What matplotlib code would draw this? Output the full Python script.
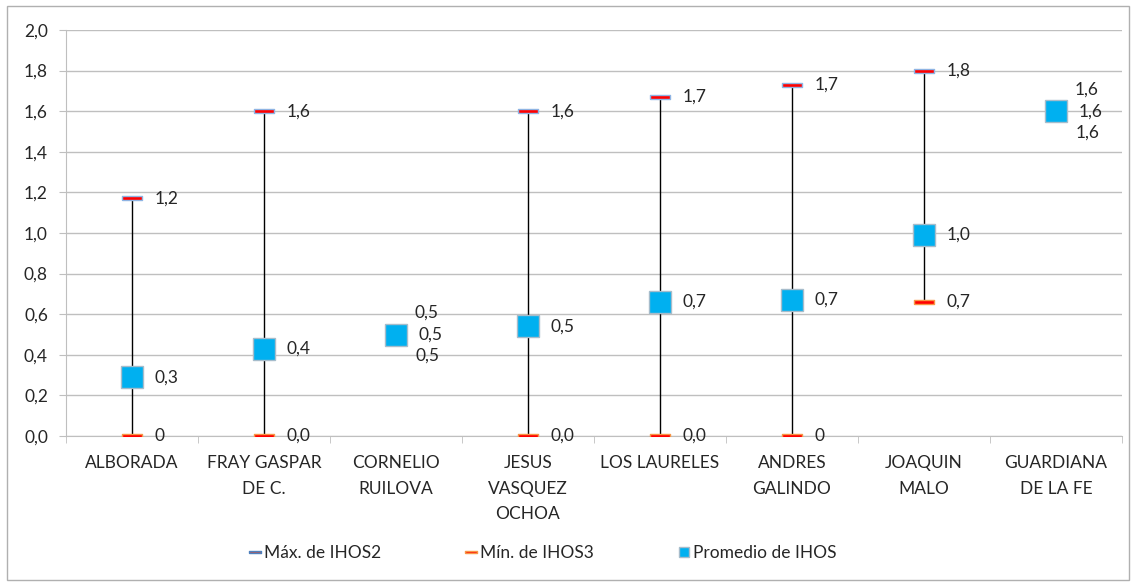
import matplotlib
matplotlib.use("Agg")
import matplotlib.pyplot as plt
from matplotlib.lines import Line2D
from matplotlib.patches import Rectangle
import numpy as np

plt.rcParams["font.family"] = ["Lato", "DejaVu Sans"]

categories = ["ALBORADA", "FRAY GASPAR\nDE C.", "CORNELIO\nRUILOVA", "JESUS\nVASQUEZ\nOCHOA",
              "LOS LAURELES", "ANDRES\nGALINDO", "JOAQUIN\nMALO", "GUARDIANA\nDE LA FE"]
max_vals = [1.17, 1.60, 0.50, 1.60, 1.67, 1.73, 1.80, 1.60]
min_vals = [0.00, 0.00, 0.50, 0.00, 0.00, 0.00, 0.66, 1.60]
avg_vals = [0.29, 0.43, 0.50, 0.54, 0.66, 0.67, 0.99, 1.60]
max_labels = ["1,2", "1,6", "0,5", "1,6", "1,7", "1,7", "1,8", "1,6"]
min_labels = ["0", "0,0", "0,5", "0,0", "0,0", "0", "0,7", "1,6"]
avg_labels = ["0,3", "0,4", "0,5", "0,5", "0,7", "0,7", "1,0", "1,6"]

TXT = "#262626"
GRID = "#bfbfbf"
FS = 12.5
dash = [(-1, -0.2), (1, -0.2), (1, 0.2), (-1, 0.2), (-1, -0.2)]

fig = plt.figure(figsize=(11.35, 5.86), dpi=100)
fig.patches.append(Rectangle((7 / 1135, 6 / 586), 1122 / 1135, 574 / 586,
                             transform=fig.transFigure, fill=False,
                             edgecolor="#b0b0b0", lw=1))
ax = fig.add_axes([66 / 1135, 150 / 586, 1056 / 1135, 406 / 586])

x = np.arange(len(categories))
for i in x:
    ax.plot([i, i], [min_vals[i], max_vals[i]], color="black", lw=1, zorder=3)

ax.plot(x, max_vals, ls="none", marker=dash, ms=14.5, mfc="#ff0000",
        mec="#8fb4e3", mew=1, zorder=4)
ax.plot(x, min_vals, ls="none", marker=dash, ms=14.5, mfc="#ff0000",
        mec="#f79646", mew=1, zorder=4)
ax.plot(x, avg_vals, ls="none", marker="s", ms=15.5, mfc="#00b0f0",
        mec="#a6bccb", mew=1, zorder=5)

def label(txt, xy, dx, dy, ha):
    ax.annotate(txt, xy, xytext=(dx, dy), textcoords="offset points",
                ha=ha, va="center", fontsize=FS, color=TXT, zorder=6)

for i in x:
    if max_vals[i] == min_vals[i]:
        label(max_labels[i], (i, max_vals[i]), 22, 15.5, "center")
        label(min_labels[i], (i, min_vals[i]), 23, -15.5, "center")
    else:
        label(max_labels[i], (i, max_vals[i]), 16.5, 0, "left")
        label(min_labels[i], (i, min_vals[i]), 16.5, 0, "left")
    label(avg_labels[i], (i, avg_vals[i]), 16.5, 0, "left")

ax.set_xlim(-0.5, len(categories) - 0.5)
ax.set_ylim(0, 2.0)
ax.set_yticks(np.arange(0, 2.01, 0.2))
ax.set_yticklabels([f"{v:.1f}".replace(".", ",") for v in np.arange(0, 2.01, 0.2)])
ax.grid(axis="y", color=GRID, lw=1)
ax.set_axisbelow(True)
ax.set_xticks(x)
ax.set_xticklabels(categories, linespacing=1.7)
ax.set_xticks(np.arange(-0.5, len(categories), 1), minor=True)
ax.tick_params(axis="x", which="major", length=0, pad=14, labelsize=FS, labelcolor=TXT)
ax.tick_params(axis="x", which="minor", length=5, color=GRID)
ax.tick_params(axis="y", length=5, color=GRID, labelsize=FS, labelcolor=TXT, pad=8)
for s in ["top", "right"]:
    ax.spines[s].set_visible(False)
for s in ["left", "bottom"]:
    ax.spines[s].set_color(GRID)

handles = [
    Line2D([], [], ls="none", marker=dash, ms=8.5, mfc="#c0504d", mec="#4f81bd", mew=1),
    Line2D([], [], ls="none", marker=dash, ms=8.5, mfc="#ff0000", mec="#f79646", mew=1),
    Line2D([], [], ls="none", marker="s", ms=7.5, mfc="#00b0f0", mec="#a6bccb", mew=1),
]
fig.legend(handles, ["Máx. de IHOS2", "Mín. de IHOS3", "Promedio de IHOS"],
           loc="center", bbox_to_anchor=(543 / 1135, 1 - 553 / 586), ncol=3,
           frameon=False, fontsize=FS, handlelength=0.6, handletextpad=0.2,
           columnspacing=4.9, labelcolor=TXT)

fig.savefig("out.png", dpi=100)
